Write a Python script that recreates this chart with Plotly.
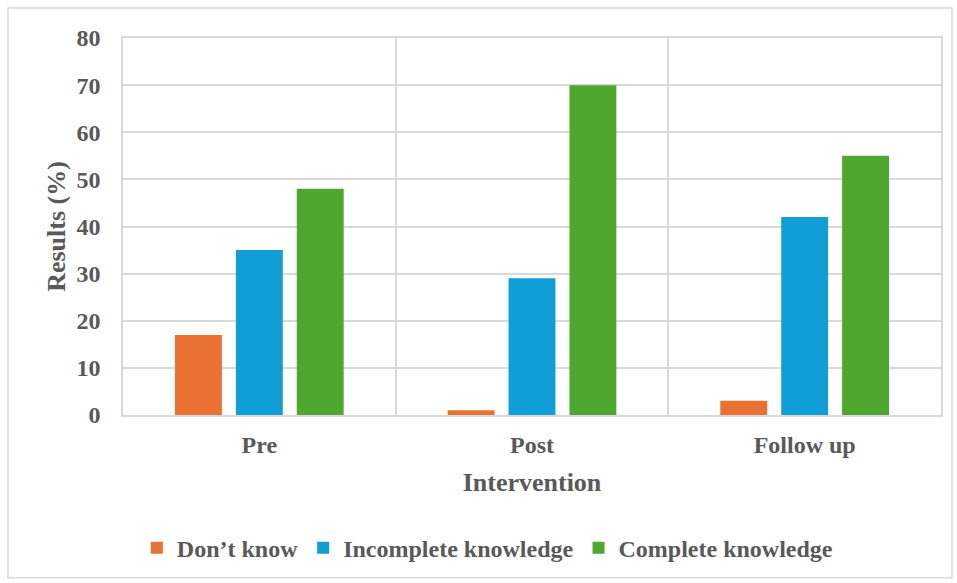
import plotly.graph_objects as go

categories = ["Pre", "Post", "Follow up"]
dont_know = [17, 1, 3]
incomplete = [35, 29, 42]
complete = [48, 70, 55]
y_ticks = [0, 10, 20, 30, 40, 50, 60, 70, 80]

FONT = "Liberation Serif, Times New Roman, serif"
TEXT = "#595959"
GRID = "#d9d9d9"

fig = go.Figure()
for name, vals, color in [
    ("Don’t know", dont_know, "#E97132"),
    ("Incomplete knowledge", incomplete, "#0F9ED5"),
    ("Complete knowledge", complete, "#4EA72E"),
]:
    fig.add_trace(go.Bar(x=categories, y=vals, name=name, marker_color=color,
                         marker_line_width=0))

fig.update_layout(
    width=957, height=583,
    margin=dict(l=123, r=16, t=38, b=168),
    paper_bgcolor="white", plot_bgcolor="white",
    barmode="group", bargap=0.33, bargroupgap=0.23,
    font=dict(family=FONT, size=24, color=TEXT, weight="bold"),
    showlegend=True,
    legend=dict(orientation="h", x=0.446, xanchor="center", y=-0.353, yanchor="middle",
                font=dict(family=FONT, size=24, color=TEXT, weight="bold"),
                itemwidth=30, traceorder="normal"),
    xaxis=dict(
        tickson="boundaries", showgrid=True, gridcolor=GRID, gridwidth=1.5,
        showline=True, linecolor=GRID, linewidth=1.5, mirror=True,
        ticks="", tickfont=dict(family=FONT, size=24, color=TEXT, weight="bold"),
        ticklabelstandoff=7,
        title=dict(text="Intervention", standoff=16,
                   font=dict(family=FONT, size=26, color=TEXT, weight="bold")),
    ),
    yaxis=dict(
        range=[0, 80], tickvals=y_ticks, showgrid=True, gridcolor=GRID, gridwidth=1.5,
        showline=True, linecolor=GRID, linewidth=1.5, mirror=True, zeroline=False,
        ticks="", tickfont=dict(family=FONT, size=24, color=TEXT, weight="bold"),
        ticklabelstandoff=16,
        title=dict(text="Results (%)", standoff=3,
                   font=dict(family=FONT, size=26, color=TEXT, weight="bold")),
    ),
    shapes=[dict(type="rect", xref="paper", yref="paper",
                 x0=-0.1406, x1=1.0134, y0=-0.432, y1=1.0796,
                 line=dict(color=GRID, width=1.5), fillcolor="rgba(0,0,0,0)",
                 layer="below")],
)

fig.write_html("out.html")
